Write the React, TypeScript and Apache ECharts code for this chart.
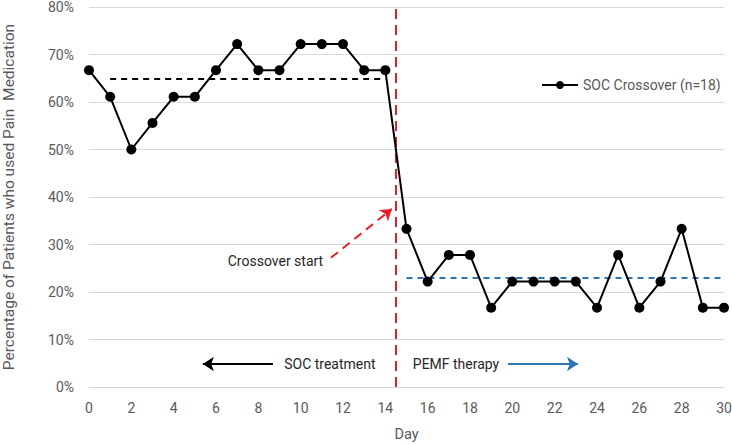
import React, { useEffect, useRef } from "react";
import * as echarts from "echarts";

const days = [0, 1, 2, 3, 4, 5, 6, 7, 8, 9, 10, 11, 12, 13, 14, 15, 16, 17, 18, 19, 20, 21, 22, 23, 24, 25, 26, 27, 28, 29, 30];
const socCrossover = [66.7, 61.1, 50.0, 55.6, 61.1, 61.1, 66.7, 72.2, 66.7, 66.7, 72.2, 72.2, 72.2, 66.7, 66.7, 33.3, 22.2, 27.8, 27.8, 16.7, 22.2, 22.2, 22.2, 22.2, 16.7, 27.8, 16.7, 22.2, 33.3, 16.7, 16.7];
const socMean = 65;
const pemfMean = 23;
const crossoverDay = 14.5;
const seriesName = "SOC Crossover (n=18)";

const FONT = "Roboto, 'Open Sans', sans-serif";
const GREY = "#595959";
const DARK = "#262626";
const BLUE = "#2e75b6";
const RED = "#e8202a";

export default function App() {
  const ref = useRef<HTMLDivElement>(null);
  useEffect(() => {
    if (!ref.current) return;
    const chart = echarts.init(ref.current, undefined, { renderer: "svg" });
    const textPoint = (coord: number[], text: string) => ({
      coord,
      symbol: "circle",
      symbolSize: 1,
      itemStyle: { color: "rgba(0,0,0,0)" },
      label: {
        show: true,
        position: "inside",
        formatter: text,
        color: DARK,
        fontSize: 14,
        fontFamily: FONT,
      },
    });
    chart.setOption({
      animation: false,
      textStyle: { fontFamily: FONT },
      grid: { left: 89, right: 8, top: 7, bottom: 57, containLabel: false, outerBoundsMode: "none" },
      legend: {
        data: [seriesName],
        left: 536,
        top: 73,
        itemWidth: 36,
        itemHeight: 10,
        textStyle: { fontSize: 14, color: GREY, fontFamily: FONT },
      },
      xAxis: {
        type: "value",
        min: 0,
        max: 30,
        interval: 2,
        name: "Day",
        nameLocation: "middle",
        nameGap: 40,
        nameTextStyle: { fontSize: 14.5, color: GREY, fontFamily: FONT },
        axisLine: { show: false },
        axisTick: { show: false },
        splitLine: { show: false },
        axisLabel: { fontSize: 14, color: GREY, margin: 14, fontFamily: FONT },
      },
      yAxis: {
        type: "value",
        min: 0,
        max: 80,
        interval: 10,
        name: "Percentage of Patients who used Pain  Medication",
        nameLocation: "middle",
        nameGap: 72,
        nameTextStyle: { fontSize: 15.5, color: GREY, fontFamily: FONT },
        axisLine: { show: false },
        axisTick: { show: false },
        splitLine: { lineStyle: { color: "#d9d9d9", width: 1 } },
        axisLabel: { fontSize: 14, color: GREY, margin: 15, formatter: "{value}%", fontFamily: FONT },
      },
      series: [
        {
          name: "annotations",
          type: "line",
          data: [],
          silent: true,
          markLine: {
            silent: true,
            animation: false,
            symbol: ["none", "none"],
            label: { show: false },
            data: [
              [
                { coord: [1, socMean], lineStyle: { color: "#000", width: 2, type: [6, 5] } },
                { coord: [14, socMean] },
              ],
              [
                { coord: [15, pemfMean], lineStyle: { color: BLUE, width: 2, type: [6, 5] } },
                { coord: [30, pemfMean] },
              ],
              {
                xAxis: crossoverDay,
                lineStyle: { color: RED, width: 2, type: [10, 6] },
              },
              [
                { coord: [11.43, 27.2], symbol: "none", lineStyle: { color: RED, width: 2, type: [9, 6] } },
                { coord: [14.31, 37.5], symbol: "arrow", symbolSize: 11 },
              ],
              [
                { coord: [8.69, 4.84], symbol: "none", lineStyle: { color: "#000", width: 2, type: "solid" } },
                { coord: [5.38, 4.84], symbol: "arrow", symbolSize: 11 },
              ],
              [
                { coord: [19.79, 4.84], symbol: "none", lineStyle: { color: BLUE, width: 2, type: "solid" } },
                { coord: [23.1, 4.84], symbol: "arrow", symbolSize: 11 },
              ],
            ],
          },
          markPoint: {
            silent: true,
            animation: false,
            data: [
              textPoint([8.81, 26.5], "Crossover start"),
              textPoint([11.38, 4.84], "SOC treatment"),
              textPoint([17.34, 4.84], "PEMF therapy"),
            ],
          },
        },
        {
          name: seriesName,
          type: "line",
          z: 5,
          data: days.map((d, i) => [d, socCrossover[i]]),
          symbol: "circle",
          symbolSize: 10,
          itemStyle: { color: "#000" },
          lineStyle: { color: "#000", width: 2 },
        },
      ],
    });
    return () => chart.dispose();
  }, []);
  return (
    <div
      ref={ref}
      style={{ position: "absolute", left: 0, top: 0, width: 732, height: 444, background: "#fff" }}
    />
  );
}
